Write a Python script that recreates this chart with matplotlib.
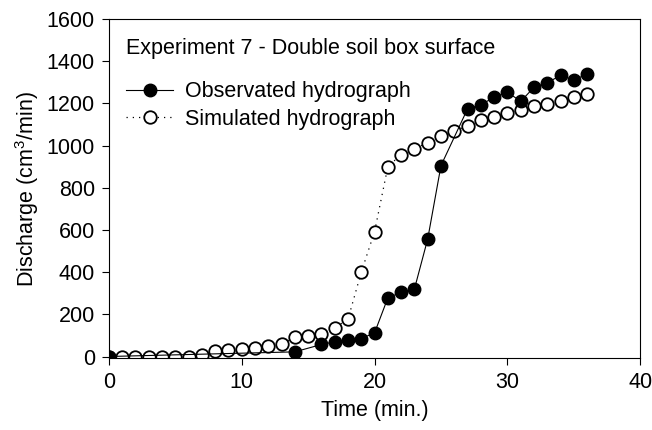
import matplotlib
matplotlib.use("Agg")
import matplotlib.pyplot as plt
from matplotlib.lines import Line2D

plt.rcParams['font.family'] = ['Liberation Sans', 'DejaVu Sans']
plt.rcParams['mathtext.fontset'] = 'custom'
plt.rcParams['mathtext.rm'] = 'Liberation Sans'

# Observed hydrograph (min, cm3/min)
obs_time = [0, 14, 16, 17, 18, 19, 20, 21, 22, 23, 24, 25,
            27, 28, 29, 30, 31, 32, 33, 34, 35, 36]
obs_q = [0, 22, 57, 70, 76, 85, 112, 278, 304, 320, 557, 905,
         1174, 1193, 1229, 1253, 1209, 1276, 1298, 1332, 1311, 1338]

# Simulated hydrograph (min, cm3/min)
sim_time = list(range(0, 37))
sim_q = [0, 0, 0, 0, 0, 0, 0, 9, 25, 30, 36, 41, 49, 57, 92, 98, 105,
         137, 177, 400, 592, 900, 957, 983, 1014, 1046, 1068, 1092,
         1120, 1135, 1153, 1169, 1185, 1195, 1213, 1229, 1243]

x_ticks = [0, 10, 20, 30, 40]
y_ticks = [0, 200, 400, 600, 800, 1000, 1200, 1400, 1600]

FS = 15.5

fig = plt.figure(figsize=(6.52, 4.30), dpi=100)
ax = fig.add_axes([0.167, 0.167, 0.815, 0.789])

ax.plot(sim_time, sim_q, linestyle=(0, (1, 4)), color='black', linewidth=0.9,
        marker='o', markersize=9, markerfacecolor='white',
        markeredgecolor='black', markeredgewidth=1.3, zorder=2)
ax.plot(obs_time, obs_q, linestyle='-', color='black', linewidth=0.8,
        marker='o', markersize=9, markerfacecolor='black',
        markeredgecolor='black', zorder=3)

ax.set_xlim(0, 40)
ax.set_ylim(-8, 1600)
ax.set_xticks(x_ticks)
ax.set_yticks(y_ticks)
ax.tick_params(direction='out', length=5, width=0.8, labelsize=FS, pad=5)
for s in ax.spines.values():
    s.set_linewidth(0.8)

ax.set_xlabel('Time (min.)', fontsize=FS, labelpad=5)
ax.set_ylabel('Discharge (cm$^3$/min)', fontsize=FS, labelpad=4)

handles = [
    Line2D([], [], color='black', linewidth=0.8, marker='o', markersize=9,
           markerfacecolor='black'),
    Line2D([], [], color='black', linewidth=0.9, linestyle=(0, (1, 4)),
           marker='o', markersize=9, markerfacecolor='white',
           markeredgewidth=1.3),
]
leg = ax.legend(handles, ['Observated hydrograph', 'Simulated hydrograph'],
                title='Experiment 7 - Double soil box surface',
                loc='upper left', bbox_to_anchor=(0.0, 0.994), frameon=False,
                fontsize=FS, title_fontsize=FS, handlelength=2.2,
                handletextpad=0.55, labelspacing=0.3, alignment='left',
                borderpad=0.3)
leg._legend_box.sep = 16

fig.savefig('out.png', dpi=100)
